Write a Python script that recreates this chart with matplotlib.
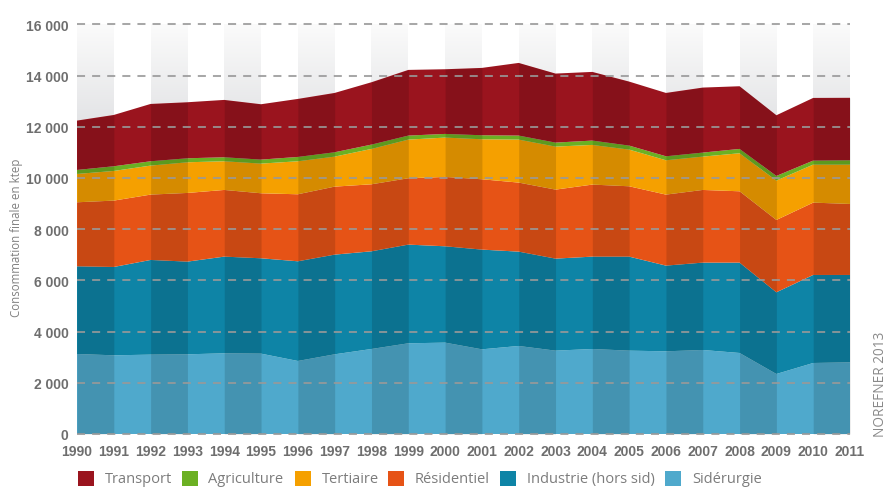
import numpy as np
import matplotlib
matplotlib.use("Agg")
import matplotlib.pyplot as plt
from matplotlib.colors import LinearSegmentedColormap
from matplotlib.patches import Rectangle

years = list(range(1990, 2012))
siderurgie = [3125, 3073, 3099, 3112, 3151, 3138, 2852, 3112, 3320, 3542, 3568,
              3307, 3438, 3255, 3320, 3255, 3229, 3281, 3164, 2344, 2773, 2799]
industrie = [3424, 3450, 3698, 3620, 3776, 3724, 3893, 3893, 3815, 3854, 3763,
             3894, 3684, 3594, 3607, 3672, 3347, 3412, 3529, 3190, 3438, 3412]
residentiel = [2500, 2592, 2552, 2682, 2604, 2539, 2617, 2656, 2617, 2591, 2708,
               2747, 2696, 2695, 2813, 2747, 2773, 2838, 2786, 2825, 2825, 2773]
tertiaire = [1107, 1158, 1133, 1198, 1120, 1159, 1289, 1172, 1381, 1510, 1537,
             1562, 1679, 1680, 1549, 1433, 1341, 1302, 1485, 1537, 1485, 1537]
agriculture = [156, 183, 169, 156, 156, 156, 169, 170, 169, 157, 143,
               157, 157, 156, 170, 156, 156, 157, 169, 182, 156, 169]
transport = [1928, 2004, 2239, 2188, 2240, 2162, 2266, 2317, 2435, 2565, 2526,
             2630, 2838, 2696, 2682, 2500, 2474, 2539, 2448, 2370, 2448, 2440]

series_names = ["Sidérurgie", "Industrie (hors sid)", "Résidentiel", "Tertiaire",
                "Agriculture", "Transport"]
series_colors = ["#4fa9cc", "#0e84a6", "#e65316", "#f5a000", "#6bb023", "#9a141e"]
legend_order = ["Transport", "Agriculture", "Tertiaire", "Résidentiel",
                "Industrie (hors sid)", "Sidérurgie"]
y_ticks = list(range(0, 16001, 2000))
y_ticklabels = ["0", "2 000", "4 000", "6 000", "8 000", "10 000", "12 000",
                "14 000", "16 000"]

W, H = 889, 489
fig = plt.figure(figsize=(W / 100, H / 100), dpi=100)
ax = fig.add_axes([77 / W, 54 / H, 773 / W, (435 - 25.3) / H])

data = [siderurgie, industrie, residentiel, tertiaire, agriculture, transport]
total = np.sum(np.array(data), axis=0)

# background gradient in alternate columns
grad_cmap = LinearSegmentedColormap.from_list("g", ["#d9dadd", "#fbfbfb"])
grad = np.linspace(0, 1, 256).reshape(-1, 1)
for i in range(0, len(years) - 1, 2):
    ax.imshow(grad, extent=[years[i], years[i + 1], 10500, 16000], origin="lower",
              aspect="auto", cmap=grad_cmap, zorder=0, interpolation="bilinear")

ax.stackplot(years, *data, colors=series_colors, linewidth=0, zorder=1,
             antialiased=True)

# darker alternate columns
for i in range(0, len(years) - 1, 2):
    ax.fill_between(years[i:i + 2], 0, total[i:i + 2], color="black", alpha=0.13,
                    linewidth=0, zorder=2)

for v in y_ticks:
    ax.axhline(v, color="#999999", alpha=0.85, linewidth=1.45,
               linestyle=(0, (4, 3.5)), zorder=5, clip_on=False)

ax.set_xlim(1990, 2011)
ax.set_ylim(0, 16000)
for s in ax.spines.values():
    s.set_visible(False)

tick_font = ["Liberation Sans", "DejaVu Sans"]
ax.set_xticks(years)
ax.set_xticklabels([str(y) for y in years], fontfamily=tick_font,
                   fontweight="bold", fontsize=10, color="#6e6e6e")
ax.set_yticks(y_ticks)
ax.set_yticklabels(y_ticklabels, fontfamily=tick_font, fontweight="bold",
                   fontsize=10, color="#6e6e6e")
ax.tick_params(axis="both", length=0)
ax.tick_params(axis="x", pad=7)
ax.tick_params(axis="y", pad=6)

fig.text(17 / W, 1 - 238 / H, "Consommation finale en ktep", rotation=90,
         ha="center", va="center", fontsize=8.3, color="#808080",
         fontfamily="Open Sans")
fig.text(881 / W, 1 - 437 / H, "NOREFNER 2013", rotation=90, ha="center",
         va="bottom", fontsize=9.8, color="#8a8a8a", fontfamily="Open Sans")

# legend
sq_x = [78, 182, 295, 388, 500, 665]
tx_x = [105, 208, 322, 415, 527, 692]
color_map = dict(zip(series_names, series_colors))
for name, sx, tx in zip(legend_order, sq_x, tx_x):
    fig.patches.append(Rectangle((sx / W, 1 - 487 / H), 16 / W, 15 / H,
                                 transform=fig.transFigure,
                                 facecolor=color_map[name], edgecolor="none"))
    fig.text(tx / W, 1 - 480 / H, name, ha="left", va="center", fontsize=10.5,
             color="#7c7c7c", fontfamily="Open Sans")

fig.savefig("out.png", dpi=100)
